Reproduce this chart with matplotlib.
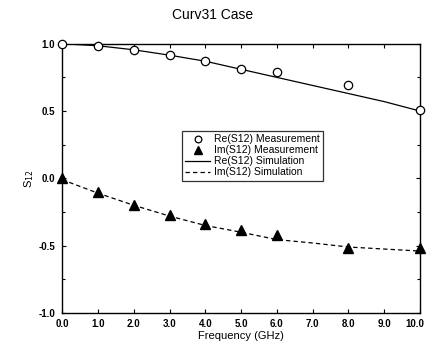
import matplotlib.pyplot as plt
from matplotlib.ticker import MultipleLocator
from matplotlib.transforms import ScaledTranslation

plt.rcParams['font.family'] = ['Liberation Sans', 'DejaVu Sans']

# measured points
f_meas = [0, 1, 2, 3, 4, 5, 6, 8, 10]
re_meas = [1.0, 0.98, 0.95, 0.92, 0.87, 0.81, 0.79, 0.69, 0.51]
im_meas = [0.0, -0.10, -0.20, -0.27, -0.34, -0.38, -0.42, -0.52, -0.52]

# simulated curves
f_sim = [0, 1, 2, 3, 4, 5, 6, 7, 8, 9, 10]
re_sim = [1.0, 0.985, 0.955, 0.915, 0.87, 0.81, 0.75, 0.69, 0.63, 0.57, 0.50]
im_sim = [-0.01, -0.11, -0.20, -0.28, -0.35, -0.40, -0.455, -0.48, -0.51, -0.525, -0.54]

xticks = [0, 1, 2, 3, 4, 5, 6, 7, 8, 9, 10]
yticks = [-1.0, -0.5, 0.0, 0.5, 1.0]

fig = plt.figure(figsize=(4.26, 3.43), dpi=100)
ax = fig.add_axes([0.146, 0.0875, 0.84, 0.785])

ax.plot(f_meas, re_meas, 'o', mfc='white', mec='black', ms=6, mew=0.9,
        clip_on=False, zorder=3, label='Re(S12) Measurement')
ax.plot(f_meas, im_meas, '^', color='black', ms=6.5,
        clip_on=False, zorder=3, label='Im(S12) Measurement')
ax.plot(f_sim, re_sim, '-', color='black', lw=0.9, label='Re(S12) Simulation')
ax.plot(f_sim, im_sim, '--', color='black', lw=0.9, dashes=(3.5, 2.5),
        label='Im(S12) Simulation')

ax.set_xlim(0, 10)
ax.set_ylim(-1.0, 1.0)
ax.set_xticks(xticks)
ax.set_xticklabels(['%.1f' % x for x in xticks], fontsize=7, fontweight='bold')
ax.set_yticks(yticks)
ax.set_yticklabels(['%.1f' % y for y in yticks], fontsize=7, fontweight='bold')
ax.yaxis.set_minor_locator(MultipleLocator(0.25))
ax.tick_params(which='both', direction='in', top=True, right=True, length=3, width=0.8)
ax.tick_params(which='minor', length=2)
ax.tick_params(axis='x', pad=4)
ax.tick_params(axis='y', pad=5)
for s in ax.spines.values():
    s.set_linewidth(1.0)

# keep the last x label inside the picture
last = ax.get_xticklabels()[-1]
last.set_transform(last.get_transform() + ScaledTranslation(-5 / 100, 0, fig.dpi_scale_trans))

ax.set_xlabel('Frequency (GHz)', fontsize=8, labelpad=2)
ax.set_ylabel('S$_{12}$', fontsize=8, labelpad=2)
fig.text(0.5, 0.955, 'Curv31 Case', ha='center', va='center', fontsize=10)

leg = ax.legend(loc='upper left', bbox_to_anchor=(0.335, 0.675), fontsize=7.5,
                frameon=True, fancybox=False, edgecolor='black',
                handlelength=2.4, handletextpad=0.4, borderpad=0.3,
                labelspacing=0.1, borderaxespad=0, markerscale=0.8)
leg.get_frame().set_linewidth(0.9)

fig.savefig('out.png', dpi=100)
